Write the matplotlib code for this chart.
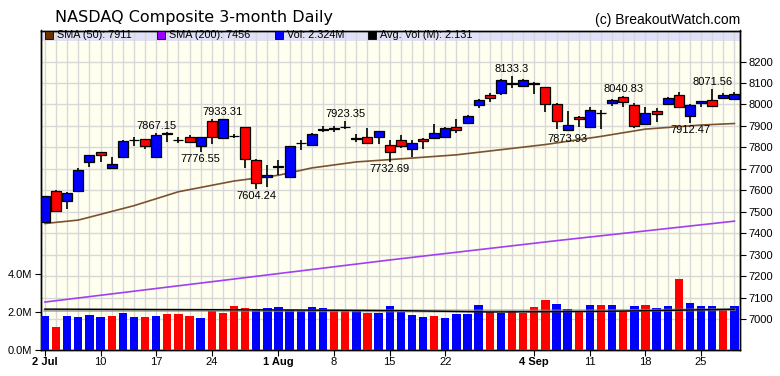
import matplotlib
matplotlib.use("Agg")
import matplotlib.pyplot as plt
from matplotlib.patches import Rectangle

# ---------------- data ----------------
opens = [7453, 7598, 7551, 7598, 7733, 7777, 7702, 7756, 7836, 7837,
         7756, 7866, 7836, 7847, 7808, 7921, 7842, 7855, 7893, 7741,
         7660, 7712, 7663, 7818, 7811, 7883, 7884, 7897, 7842, 7849,
         7850, 7811, 7834, 7791, 7839, 7845, 7847, 7893, 7912, 7997,
         8044, 8052, 8100, 8086, 8098, 8080, 8004, 7881, 7942, 7896,
         7961, 8005, 8033, 7997, 7907, 7969, 8000, 8046, 7946, 8005,
         8020, 8028, 8027]
highs = [7575, 7600, 7592, 7702, 7765, 7780, 7754, 7833, 7847, 7840,
         7867.15, 7872, 7850, 7858, 7850, 7930, 7933.31, 7862, 7894, 7745,
         7717, 7741, 7808, 7834, 7865, 7898, 7899, 7923.35, 7860, 7892,
         7878, 7835, 7856, 7835, 7842, 7907, 7893, 7932, 7952, 8026,
         8051, 8118, 8133.3, 8120, 8106, 8083, 8006, 7968, 7945, 7990,
         7974, 8025, 8040.83, 8005, 7988, 7985, 8033, 8060, 8002, 8018,
         8071.56, 8055, 8058]
lows = [7450, 7502, 7511, 7595, 7707, 7733, 7700, 7754, 7808, 7792,
        7754, 7826, 7819, 7820, 7776.55, 7815, 7840, 7845, 7702, 7604.24,
        7616, 7670, 7660, 7788, 7808, 7873, 7872, 7884, 7826, 7818,
        7815, 7732.69, 7799, 7756, 7791, 7843, 7845, 7866, 7910, 7982,
        8013, 8045, 8075, 8084, 8050, 7966, 7884, 7873.93, 7893, 7893,
        7885, 7992, 7990, 7889, 7905, 7920, 7995, 7983, 7912.47, 7988,
        7990, 8025, 8022]
closes = [7573, 7505, 7589, 7693, 7763, 7763, 7722, 7829, 7833, 7808,
          7859, 7863, 7832, 7823, 7847, 7847, 7932, 7852, 7744, 7632,
          7672, 7708, 7805, 7822, 7862, 7886, 7891, 7893, 7839, 7821,
          7874, 7777, 7807, 7818, 7829, 7865, 7891, 7883, 7948, 8022,
          8032, 8115, 8096, 8112, 8095, 8000, 7924, 7905, 7931, 7975,
          7958, 8020, 8013, 7899, 7962, 7954, 8030, 7989, 7998, 8014,
          7994, 8046, 8048]
volumes = [1.78, 1.20, 1.78, 1.73, 1.83, 1.73, 1.78, 1.94, 1.73, 1.73,
           1.78, 1.88, 1.88, 1.78, 1.68, 2.04, 1.94, 2.30, 2.20, 2.14,
           2.20, 2.25, 2.09, 2.04, 2.25, 2.20, 2.09, 2.04, 2.09, 1.94,
           1.94, 2.30, 2.00, 1.83, 1.73, 1.78, 1.68, 1.88, 1.88, 2.35,
           2.00, 1.94, 2.04, 1.94, 2.25, 2.62, 2.41, 2.14, 2.04, 2.35,
           2.35, 2.35, 2.04, 2.30, 2.35, 2.20, 2.30, 3.72, 2.46, 2.30,
           2.30, 2.12, 2.324]
vol_dir = "udu" "uuud" "uud" "udd" "dudd" "dduu" "uuuu" "uddu" "duuu" "uudu" \
          "uuud" "uddd" "duud" "udud" "udu" "udu" "u"

sma50_idx = [0, 3, 8, 12, 17, 21, 24, 28, 33, 37, 42, 45, 50, 52, 54, 59, 62]
sma50_val = [7445, 7461, 7528, 7593, 7643, 7670, 7704, 7732, 7750, 7765,
             7795, 7813, 7851, 7868, 7885, 7904, 7911]
sma200_idx = [0, 16, 31, 46, 62]
sma200_val = [7079, 7180, 7275, 7365, 7456]
avgvol_idx = [0, 20, 32, 40, 50, 62]
avgvol_val = [2.14, 2.10, 2.06, 1.99, 2.02, 2.131]
avgvol2_idx = [0, 15, 30, 40, 50, 62]
avgvol2_val = [2.08, 2.08, 2.05, 2.04, 2.05, 2.12]

tick_idx = [0, 5, 10, 15, 21, 26, 31, 36, 44, 49, 54, 59]
tick_labels = ["2 Jul", "10", "17", "24", "1 Aug", "8", "15", "22",
               "4 Sep", "11", "18", "25"]
bold_ticks = {"2 Jul", "1 Aug", "4 Sep"}

hi_labels = [10, 16, 27, 42, 52, 60]
lo_labels = [14, 19, 31, 47, 58]
label_text = {10: "7867.15", 16: "7933.31", 27: "7923.35", 42: "8133.3",
              52: "8040.83", 60: "8071.56", 14: "7776.55", 19: "7604.24",
              31: "7732.69", 47: "7873.93", 58: "7912.47"}

price_ticks = list(range(7000, 8201, 100))
vol_ticks = [0, 2, 4]
vol_tick_labels = ["0.0M", "2.0M", "4.0M"]

# ---------------- styling ----------------
BLUE = "#0000ff"
RED = "#ff0000"
BG = "#fffff0"
GRID = "#d8d8d8"
BAND = "#e0e0f6"
SMA50_C = "#7a5230"
SMA200_C = "#a040f0"
FONT = "Liberation Sans"
TS = 8

W, H = 780, 376
fig = plt.figure(figsize=(W / 100, H / 100), dpi=100)
fig.patch.set_facecolor("white")

L, R, T, B = 40.5, 740, 30.5, 350
axp = fig.add_axes([L / W, 1 - B / H, (R - L) / W, (B - T) / H])
axv = axp.twinx()
axp.set_facecolor(BG)
n = len(closes)
axp.set_xlim(-0.4, n - 0.5)
axp.set_ylim(6855.5, 8344.5)

# legend band
axp.add_patch(Rectangle((0, 1 - 10.2 / (B - T)), 1, 10.2 / (B - T),
                        transform=axp.transAxes, facecolor=BAND,
                        edgecolor="none", zorder=0.2))

# grid
axp.set_axisbelow(True)
axp.set_xticks(range(n), minor=True)
axp.grid(True, which="both", axis="x", color=GRID, lw=1)
axp.grid(True, which="major", axis="y", color=GRID, lw=1)

# price ticks on right
axp.set_yticks(price_ticks)
axp.tick_params(axis="y", which="major", direction="out", length=4,
                labelsize=TS, pad=2, left=False, labelleft=False,
                right=True, labelright=True)
for lab in axp.get_yticklabels():
    lab.set_family(FONT)

# x ticks
axp.set_xticks(tick_idx)
axp.set_xticklabels(tick_labels)
axp.tick_params(axis="x", which="major", direction="out", length=4,
                labelsize=TS, pad=1)
axp.tick_params(axis="x", which="minor", length=0)
for lab in axp.get_xticklabels():
    lab.set_family(FONT)
    if lab.get_text() in bold_ticks:
        lab.set_fontweight("bold")

# SMA lines
axp.plot(sma50_idx, sma50_val, color=SMA50_C, lw=1.2, zorder=2)
axp.plot(sma200_idx, sma200_val, color=SMA200_C, lw=1.2, zorder=2)

# candles
for i in range(n):
    o, h, l, c = opens[i], highs[i], lows[i], closes[i]
    axp.vlines(i, l, h, color="black", lw=1.2, zorder=3)
    col = BLUE if c >= o else RED
    lo_b = min(o, c)
    hgt = max(abs(c - o), 2.0)
    axp.bar(i, hgt, bottom=lo_b, width=0.9, color=col, edgecolor="black",
            lw=0.9, zorder=4)

for i in hi_labels:
    axp.annotate(label_text[i], (i, highs[i]), xytext=(0, 1.5),
                 textcoords="offset points", ha="center", va="bottom",
                 fontsize=8, family=FONT, zorder=6, annotation_clip=False)
for i in lo_labels:
    axp.annotate(label_text[i], (i, lows[i]), xytext=(0, -1.5),
                 textcoords="offset points", ha="center", va="top",
                 fontsize=8, family=FONT, zorder=6, annotation_clip=False)

# volume axis (left)
axv.patch.set_visible(False)
axv.set_ylim(0, (B - T) / 19.1)
axv.set_yticks(vol_ticks)
axv.set_yticklabels(vol_tick_labels)
axv.tick_params(axis="y", direction="out", length=4, labelsize=TS, pad=2,
                left=True, labelleft=True, right=False, labelright=False)
for lab in axv.get_yticklabels():
    lab.set_family(FONT)
vcols = [BLUE if d == "u" else RED for d in vol_dir]
axv.bar(range(n), volumes, width=0.75, color=vcols, zorder=3)
axv.plot(avgvol2_idx, avgvol2_val, color="#808080", lw=2.2, alpha=0.7, zorder=4)
axv.plot(avgvol_idx, avgvol_val, color="black", lw=1.0, zorder=5)

for a in (axp, axv):
    for s in a.spines.values():
        s.set_color("black")
        s.set_linewidth(1)

# title & copyright
fig.text(55 / W, 1 - 17.5 / H, "NASDAQ Composite 3-month Daily",
         fontsize=11.5, family="DejaVu Sans", va="center", ha="left")
fig.text(740 / W, 1 - 20 / H, "(c) BreakoutWatch.com", fontsize=10,
         family=FONT, va="center", ha="right")

# legend entries
legend_items = [(45, "#663300", "SMA (50): 7911"),
                (157, "#9900ff", "SMA (200): 7456"),
                (275, BLUE, "Vol: 2.324M"),
                (368, "black", "Avg. Vol (M): 2.131")]
for x0, col, txt in legend_items:
    fig.patches.append(Rectangle((x0 / W, 1 - 39 / H), 7.5 / W, 7.5 / H,
                                 transform=fig.transFigure, facecolor=col,
                                 edgecolor="black", lw=0.6))
    fig.text((x0 + 12) / W, 1 - 35.5 / H, txt, fontsize=7.8, family=FONT,
             va="center", ha="left")

fig.savefig("out.png", dpi=100)
